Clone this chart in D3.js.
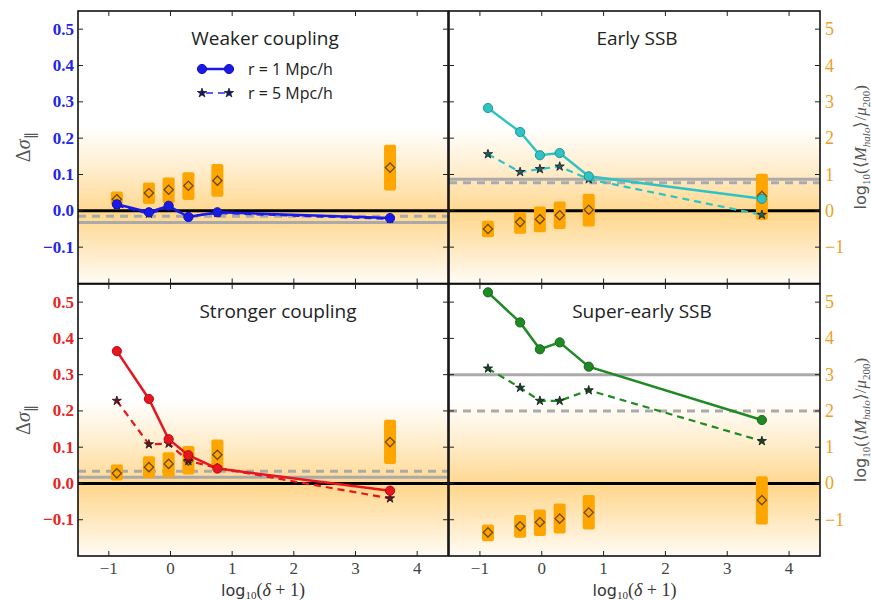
<!DOCTYPE html>
<html>
<head>
<meta charset="utf-8">
<script src="https://cdn.jsdelivr.net/npm/d3@7"></script>
<style>
  body { margin: 0; background: #fff; }
  svg { display: block; }
</style>
</head>
<body>
<svg id="chart" width="871" height="600"></svg>
<script>
// x positions of the density bins, log10(delta + 1)
const densityBins = [-0.87, -0.35, -0.03, 0.29, 0.76, 3.56];

// delta sigma_parallel, r = 1 Mpc/h and r = 5 Mpc/h
const weakR1 = [0.018, -0.004, 0.014, -0.017, -0.004, -0.020];
const weakR5 = [0.015, -0.008, 0.010, -0.015, -0.006, -0.022];
const earlyR1 = [0.283, 0.217, 0.153, 0.159, 0.095, 0.033];
const earlyR5 = [0.156, 0.107, 0.115, 0.122, 0.087, -0.011];
const strongR1 = [0.365, 0.233, 0.122, 0.078, 0.041, -0.020];
const strongR5 = [0.228, 0.108, 0.110, 0.062, 0.043, -0.041];
const superR1 = [0.527, 0.444, 0.370, 0.389, 0.322, 0.175];
const superR5 = [0.317, 0.264, 0.228, 0.228, 0.257, 0.117];

// log10(<M_halo>/mu200): median, low, high
const weakMass = [0.32, 0.49, 0.58, 0.69, 0.83, 1.19];
const weakMassLo = [0.17, 0.19, 0.21, 0.30, 0.39, 0.56];
const weakMassHi = [0.53, 0.78, 0.92, 1.06, 1.29, 1.82];
const earlyMass = [-0.50, -0.31, -0.23, -0.12, 0.03, 0.41];
const earlyMassLo = [-0.73, -0.63, -0.59, -0.50, -0.43, -0.25];
const earlyMassHi = [-0.27, -0.04, 0.12, 0.26, 0.47, 1.02];
const strongMass = [0.28, 0.45, 0.54, 0.63, 0.79, 1.14];
const strongMassLo = [0.08, 0.15, 0.17, 0.25, 0.41, 0.54];
const strongMassHi = [0.52, 0.75, 0.86, 1.03, 1.21, 1.76];
const superMass = [-1.35, -1.18, -1.07, -0.97, -0.80, -0.46];
const superMassLo = [-1.59, -1.50, -1.45, -1.38, -1.27, -1.13];
const superMassHi = [-1.13, -0.87, -0.72, -0.55, -0.32, 0.20];

// grey reference levels (solid, dashed)
const refSolid = [-0.032, 0.087, 0.017, 0.30];
const refDashed = [-0.015, 0.077, 0.034, 0.20];

const panelTitles = ["Weaker coupling", "Early SSB", "Stronger coupling", "Super-early SSB"];
const xTicks = [-1, 0, 1, 2, 3, 4];
const yTicks = [-0.1, 0, 0.1, 0.2, 0.3, 0.4, 0.5];
const massTicks = [-1, 0, 1, 2, 3, 4, 5];
const legendLabels = ["r = 1 Mpc/h", "r = 5 Mpc/h"];

const svg = d3.select("#chart");

const cols = [[78, 448], [449, 820]];
const rows = [[11, 283.5], [284, 556]];

const panels = [
  { title: panelTitles[0], col: 0, row: 0, color: "#1a1ae8", tick: "#2323ee", r1: weakR1, r5: weakR5, m: weakMass, lo: weakMassLo, hi: weakMassHi, tx: 265 },
  { title: panelTitles[1], col: 1, row: 0, color: "#2ec4c4", tick: null, r1: earlyR1, r5: earlyR5, m: earlyMass, lo: earlyMassLo, hi: earlyMassHi, tx: 637 },
  { title: panelTitles[2], col: 0, row: 1, color: "#e8141e", tick: "#e82424", r1: strongR1, r5: strongR5, m: strongMass, lo: strongMassLo, hi: strongMassHi, tx: 278 },
  { title: panelTitles[3], col: 1, row: 1, color: "#1f8a24", tick: null, r1: superR1, r5: superR5, m: superMass, lo: superMassLo, hi: superMassHi, tx: 642 }
];

const orange = "#ffa500";
const fmt = v => (v < 0 ? "\u2212" : "") + Math.abs(v).toFixed(1);
const fmtInt = v => (v < 0 ? "\u2212" : "") + Math.abs(v);
const starFill = c => d3.interpolateRgb(c, "#101018")(0.55);

const defs = svg.append("defs");

panels.forEach((p, i) => {
  const [x0, x1] = cols[p.col];
  const [y0, y1] = rows[p.row];
  const x = d3.scaleLinear().domain([-1.5, 4.5]).range([x0, x1]);
  const y = d3.scaleLinear().domain([-0.2, 0.55]).range([y1, y0]);
  const ym = d3.scaleLinear().domain([-2, 5.5]).range([y1, y0]);

  // clip + orange shading
  defs.append("clipPath").attr("id", "clip" + i)
    .append("rect").attr("x", x0).attr("y", y0).attr("width", x1 - x0).attr("height", y1 - y0);

  const grad = defs.append("linearGradient").attr("id", "grad" + i)
    .attr("gradientUnits", "userSpaceOnUse")
    .attr("x1", 0).attr("x2", 0).attr("y1", y(0.23)).attr("y2", y(-0.2));
  [[0, 0], [0.25, 0.18], [0.5, 0.4], [0.56, 0.44], [0.75, 0.27], [1, 0.04]].forEach(s => {
    grad.append("stop").attr("offset", s[0]).attr("stop-color", orange).attr("stop-opacity", s[1]);
  });

  const g = svg.append("g").attr("clip-path", `url(#clip${i})`);
  g.append("rect").attr("x", x0).attr("y", y(0.23)).attr("width", x1 - x0)
    .attr("height", y(-0.2) - y(0.23)).attr("fill", `url(#grad${i})`);

  // reference lines
  g.append("line").attr("x1", x0).attr("x2", x1)
    .attr("y1", y(refSolid[i])).attr("y2", y(refSolid[i]))
    .attr("stroke", "#aaaaaa").attr("stroke-width", 3);
  g.append("line").attr("x1", x0).attr("x2", x1)
    .attr("y1", y(refDashed[i])).attr("y2", y(refDashed[i]))
    .attr("stroke", "#aaaaaa").attr("stroke-width", 3).attr("stroke-dasharray", "8,6");
  g.append("line").attr("x1", x0).attr("x2", x1)
    .attr("y1", y(0)).attr("y2", y(0))
    .attr("stroke", "#000").attr("stroke-width", 3);

  // halo mass bars
  const bars = densityBins.map((d, k) => ({ x: d, m: p.m[k], lo: p.lo[k], hi: p.hi[k] }));
  g.selectAll(".bar").data(bars).enter().append("rect")
    .attr("x", d => x(d.x) - 6).attr("width", 12)
    .attr("y", d => ym(d.hi)).attr("height", d => ym(d.lo) - ym(d.hi))
    .attr("rx", 2).attr("fill", orange);
  g.selectAll(".dia").data(bars).enter().append("path")
    .attr("d", d3.symbol(d3.symbolDiamond2, 55))
    .attr("transform", d => `translate(${x(d.x)},${ym(d.m)})`)
    .attr("fill", "none").attr("stroke", "#6b4a12").attr("stroke-width", 1.3);

  // delta sigma lines
  const line = d3.line().x(d => x(d[0])).y(d => y(d[1]));
  const s1 = densityBins.map((d, k) => [d, p.r1[k]]);
  const s5 = densityBins.map((d, k) => [d, p.r5[k]]);
  g.append("path").datum(s5).attr("d", line).attr("fill", "none")
    .attr("stroke", p.color).attr("stroke-width", 2.2).attr("stroke-dasharray", "7,5");
  g.selectAll(".star").data(s5).enter().append("path")
    .attr("d", d3.symbol(d3.symbolStar, 26))
    .attr("transform", d => `translate(${x(d[0])},${y(d[1])})`)
    .attr("fill", starFill(p.color)).attr("stroke", "#15151f").attr("stroke-width", 0.8);
  g.append("path").datum(s1).attr("d", line).attr("fill", "none")
    .attr("stroke", p.color).attr("stroke-width", 2.5);
  g.selectAll(".dot").data(s1).enter().append("circle")
    .attr("cx", d => x(d[0])).attr("cy", d => y(d[1])).attr("r", 4.6)
    .attr("fill", p.color).attr("stroke", d3.color(p.color).darker(0.8)).attr("stroke-width", 1);

  // frame
  svg.append("rect").attr("x", x0).attr("y", y0).attr("width", x1 - x0).attr("height", y1 - y0)
    .attr("fill", "none").attr("stroke", "#111").attr("stroke-width", 1.6);

  // inward ticks
  const tk = svg.append("g").attr("stroke", "#222").attr("stroke-width", 1);
  xTicks.forEach(t => {
    tk.append("line").attr("x1", x(t)).attr("x2", x(t)).attr("y1", y1).attr("y2", y1 - 5);
    tk.append("line").attr("x1", x(t)).attr("x2", x(t)).attr("y1", y0).attr("y2", y0 + 5);
  });
  yTicks.forEach(t => {
    tk.append("line").attr("x1", x0).attr("x2", x0 + 5).attr("y1", y(t)).attr("y2", y(t));
    tk.append("line").attr("x1", x1).attr("x2", x1 - 5).attr("y1", y(t)).attr("y2", y(t));
  });

  // tick labels
  if (p.col === 0) {
    svg.append("g").selectAll("text").data(yTicks).enter().append("text")
      .attr("x", x0 - 4).attr("y", d => y(d) + 5.5)
      .attr("text-anchor", "end").attr("fill", p.tick)
      .attr("font-family", "Liberation Serif, serif").attr("font-weight", "bold").attr("font-size", 17)
      .text(fmt);
  } else {
    svg.append("g").selectAll("text").data(massTicks).enter().append("text")
      .attr("x", x1 + 5).attr("y", d => ym(d) + 6)
      .attr("text-anchor", "start").attr("fill", "#f0a020")
      .attr("font-family", "Liberation Serif, serif").attr("font-size", 18)
      .text(fmtInt);
  }
  if (p.row === 1) {
    svg.append("g").selectAll("text").data(xTicks).enter().append("text")
      .attr("x", d => x(d)).attr("y", y1 + 18)
      .attr("text-anchor", "middle").attr("fill", "#444")
      .attr("font-family", "Liberation Serif, serif").attr("font-size", 17)
      .text(fmtInt);

    const xl = svg.append("text").attr("x", (x0 + x1) / 2).attr("y", 596)
      .attr("text-anchor", "middle").attr("fill", "#333")
      .attr("font-family", "Liberation Serif, serif").attr("font-size", 18);
    xl.append("tspan").attr("font-family", "DejaVu Sans, sans-serif").attr("font-size", 16).text("log");
    xl.append("tspan").attr("font-size", 11).attr("dy", 3).text("10");
    xl.append("tspan").attr("dy", -3).text("(");
    xl.append("tspan").attr("font-style", "italic").text("δ");
    xl.append("tspan").text(" + 1)");
  }

  // axis titles
  if (p.col === 0) {
    const yl = svg.append("text")
      .attr("transform", `translate(30,${(y0 + y1) / 2}) rotate(-90)`)
      .attr("text-anchor", "middle").attr("fill", "#555")
      .attr("font-family", "Liberation Serif, serif").attr("font-size", 20);
    yl.append("tspan").text("Δ");
    yl.append("tspan").attr("font-style", "italic").text("σ");
    yl.append("tspan").attr("font-size", 14).attr("dy", 5).text("∥");
  } else {
    const rl = svg.append("text")
      .attr("transform", `translate(866,${(y0 + y1) / 2}) rotate(-90)`)
      .attr("text-anchor", "middle").attr("fill", "#555")
      .attr("font-family", "Liberation Serif, serif").attr("font-size", 17);
    rl.append("tspan").attr("font-family", "DejaVu Sans, sans-serif").attr("font-size", 16).text("log");
    rl.append("tspan").attr("font-size", 11).attr("dy", 4).text("10");
    rl.append("tspan").attr("dy", -4).text("(⟨");
    rl.append("tspan").attr("font-style", "italic").text("M");
    rl.append("tspan").attr("font-style", "italic").attr("font-size", 11).attr("dy", 4).text("halo");
    rl.append("tspan").attr("dy", -4).text("⟩/");
    rl.append("tspan").attr("font-style", "italic").text("μ");
    rl.append("tspan").attr("font-size", 11).attr("dy", 4).text("200");
    rl.append("tspan").attr("dy", -4).text(")");
  }

  // panel title
  svg.append("text").attr("x", p.tx).attr("y", y0 + 34)
    .attr("text-anchor", "middle").attr("fill", "#222")
    .attr("font-family", "Open Sans, sans-serif").attr("font-size", 19)
    .text(p.title);

  // legend in first panel
  if (i === 0) {
    const lg = svg.append("g");
    const lx0 = 202, lx1 = 229, rowsY = [69, 93];
    lg.append("line").attr("x1", lx0).attr("x2", lx1).attr("y1", rowsY[0]).attr("y2", rowsY[0])
      .attr("stroke", p.color).attr("stroke-width", 2.5);
    [lx0, lx1].forEach(cx => lg.append("circle").attr("cx", cx).attr("cy", rowsY[0]).attr("r", 4.6)
      .attr("fill", p.color).attr("stroke", d3.color(p.color).darker(0.8)));
    lg.append("line").attr("x1", lx0).attr("x2", lx1).attr("y1", rowsY[1]).attr("y2", rowsY[1])
      .attr("stroke", p.color).attr("stroke-opacity", 0.7).attr("stroke-width", 2.2)
      .attr("stroke-dasharray", "7,5").attr("stroke-dashoffset", -4);
    [lx0, lx1].forEach(cx => lg.append("path").attr("d", d3.symbol(d3.symbolStar, 26))
      .attr("transform", `translate(${cx},${rowsY[1]})`)
      .attr("fill", starFill(p.color)).attr("stroke", "#15151f").attr("stroke-width", 0.8));
    legendLabels.forEach((t, k) => lg.append("text").attr("x", 248).attr("y", rowsY[k] + 6)
      .attr("fill", "#222").attr("font-family", "Open Sans, sans-serif").attr("font-size", 16)
      .text(t));
  }
});
</script>
</body>
</html>
